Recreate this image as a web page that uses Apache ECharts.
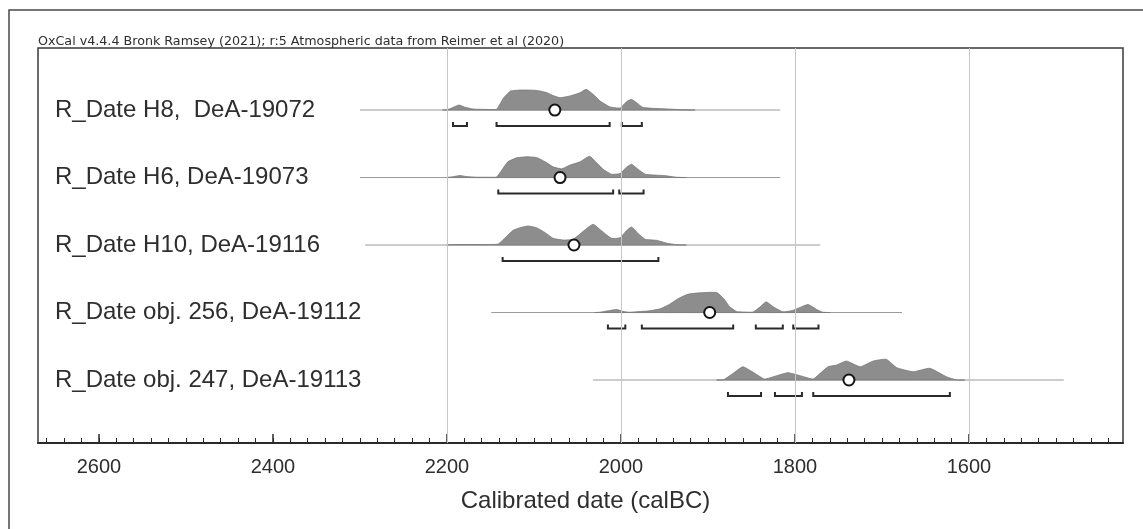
<!DOCTYPE html>
<html>
<head>
<meta charset="utf-8">
<script src="https://cdn.jsdelivr.net/npm/echarts@6/dist/echarts.min.js"></script>
<style>
html,body{margin:0;padding:0;background:#fff;}
#chart{width:1143px;height:529px;}
</style>
</head>
<body>
<div id="chart"></div>
<script>
// ---------- DATA ----------
const titleText = 'OxCal v4.4.4 Bronk Ramsey (2021); r:5 Atmospheric data from Reimer et al (2020)';
const axisTitle = 'Calibrated date (calBC)';
const rowLabels = [
  'R_Date H8,  DeA-19072',
  'R_Date H6, DeA-19073',
  'R_Date H10, DeA-19116',
  'R_Date obj. 256, DeA-19112',
  'R_Date obj. 247, DeA-19113'
];
const rowLevels = [4, 3, 2, 1, 0];
const majorTicks = [1600, 1800, 2000, 2200, 2400, 2600];
const gridYears = [1600, 1800, 2000, 2200];
const minorTicks = [];
for (let y = 1440; y <= 2660; y += 20) minorTicks.push(y);

// [calBC year, relative probability]
const densH8 = [[2205,0],[2199,0.5],[2192,3],[2186,5],[2180,3],[2170,1],[2155,0.6],[2143,0.8],[2139,6],[2135,12],[2131,15.7],[2127,19],[2115,20],[2100,19.8],[2093,19],[2085,17.3],[2078,14.5],[2070,12.3],[2059,14],[2047,17.3],[2040,20.7],[2032,15.7],[2024,9],[2013,3.3],[2001,2],[1994,8],[1988,10.7],[1982,7.3],[1975,2.7],[1965,1.8],[1952,1.3],[1929,0.3],[1915,0]];
const densH6 = [[2200,0],[2192,1],[2185,2],[2178,1],[2165,0.3],[2150,0.3],[2143,0.5],[2137,7.3],[2130,15.7],[2120,19.7],[2108,20.7],[2097,20],[2087,15.7],[2078,10.7],[2068,8.7],[2059,12.3],[2047,15.7],[2036,21.3],[2028,14.7],[2020,8],[2011,3.3],[2001,4],[1994,10],[1988,13.3],[1980,8],[1972,3.3],[1962,2.5],[1951,2],[1936,0.3],[1925,0]];
const densH10 = [[2200,0],[2190,0.5],[2160,0.5],[2145,0.6],[2141,1],[2133,7.3],[2124,14.7],[2116,17.3],[2107,19],[2097,17.3],[2087,12.3],[2078,6.7],[2066,5],[2055,5.7],[2043,14],[2032,20.7],[2022,14],[2011,6.7],[2001,7.3],[1994,14],[1988,18],[1980,11.3],[1972,5.7],[1959,4.7],[1948,2],[1936,0.3],[1925,0]];
const densO256 = [[2030,0],[2024,0.3],[2013,2],[2005,3],[1997,1],[1990,0.3],[1978,1],[1967,1.7],[1955,3.7],[1944,8.3],[1934,14],[1923,18.3],[1909,19.7],[1890,20],[1882,14],[1875,5.7],[1867,1],[1855,0.4],[1848,0.5],[1840,5.7],[1833,10.7],[1825,5.7],[1814,0.7],[1802,2.3],[1785,8],[1775,3],[1768,0.3],[1760,0]];
const densO247 = [[1890,0],[1882,0.3],[1871,6.7],[1860,13.3],[1848,7.7],[1835,1],[1821,4.3],[1808,7.3],[1794,4.3],[1779,1],[1771,6.7],[1762,13.3],[1752,15],[1741,19],[1725,13.3],[1710,19],[1695,20.7],[1683,12.3],[1664,8.3],[1645,11.7],[1626,3.3],[1614,0],[1605,0]];
const densities = [densH8, densH6, densH10, densO256, densO247];

// extent of the calculated range (thin baseline)
const spans = [[2300,1817],[2300,1817],[2294,1771],[2149,1677],[2032,1491]];
// 95.4% ranges (brackets)
const ranges95 = [
  [[2193,2177],[2143,2013],[1999,1976]],
  [[2141,2009],[2002,1974]],
  [[2136,1957]],
  [[2015,1995],[1976,1871],[1845,1814],[1802,1773]],
  [[1877,1839],[1823,1792],[1779,1622]]
];
const medians = [2076, 2070, 2054, 1898, 1738];

// ---------- CHART ----------
const chart = echarts.init(document.getElementById('chart'), null, {renderer: 'canvas'});
const FONT = '"Liberation Sans", Arial, sans-serif';
const TXT = '#2e2e2e';

function renderRow(params, api) {
  const i = params.dataIndex;
  const lvl = rowLevels[i];
  const children = [];
  const s0 = api.coord([spans[i][0], lvl]);
  const s1 = api.coord([spans[i][1], lvl]);
  children.push({type: 'line', shape: {x1: s0[0], y1: s0[1], x2: s1[0], y2: s1[1]},
    style: {stroke: '#9a9a9a', lineWidth: 1}, z2: 1});
  const pts = densities[i].map(function (p) {
    const c = api.coord([p[0], lvl]);
    return [c[0], c[1] - p[1]];
  });
  children.push({type: 'polygon', shape: {points: pts, smooth: 0.15},
    style: {fill: '#8d8d8d', stroke: '#7a7a7a', lineWidth: 0.8}, z2: 2});
  ranges95[i].forEach(function (r) {
    const a = api.coord([r[0], lvl]);
    const b = api.coord([r[1], lvl]);
    const yb = a[1] + 16;
    children.push({type: 'polyline', shape: {points: [[a[0], yb - 4], [a[0], yb], [b[0], yb], [b[0], yb - 4]]},
      style: {stroke: '#2a2a2a', lineWidth: 2, fill: null}, z2: 3});
  });
  return {type: 'group', children: children};
}

const option = {
  animation: false,
  backgroundColor: '#fff',
  title: {
    text: titleText, left: 38, top: 35, padding: 0,
    textStyle: {fontFamily: '"DejaVu Sans", sans-serif', fontSize: 12.7, fontWeight: 'normal', color: TXT}
  },
  graphic: [{
    type: 'rect', shape: {x: 9, y: 10, width: 1400, height: 800},
    style: {fill: null, stroke: '#4a4a4a', lineWidth: 1.5}, silent: true
  }],
  grid: {left: 38, right: 20, top: 48, bottom: 86, show: true, borderColor: '#3a3a3a', borderWidth: 1.5, backgroundColor: 'transparent'},
  xAxis: [{
    type: 'value', min: 1423, max: 2670, inverse: true, position: 'bottom',
    name: axisTitle, nameLocation: 'middle', nameGap: 46,
    nameTextStyle: {fontFamily: FONT, fontSize: 24, color: TXT, padding: [0, 0, 0, 10]},
    axisLine: {show: true, onZero: false, lineStyle: {color: '#2a2a2a', width: 2}},
    axisTick: {show: true, inside: true, length: 9, customValues: majorTicks, lineStyle: {color: '#2a2a2a', width: 1.5}},
    axisLabel: {show: true, margin: 14, customValues: majorTicks, fontFamily: FONT, fontSize: 20, color: TXT,
      formatter: function (v) { return String(v); }},
    splitLine: {show: false}
  }, {
    type: 'value', min: 1423, max: 2670, inverse: true, position: 'bottom',
    axisLine: {show: false, onZero: false},
    axisTick: {show: true, inside: true, length: 5, customValues: minorTicks, lineStyle: {color: '#2a2a2a', width: 1}},
    axisLabel: {show: false},
    splitLine: {show: false}
  }],
  yAxis: {
    type: 'value', min: -0.933, max: 4.919,
    axisLine: {show: false, onZero: false}, axisTick: {show: false}, splitLine: {show: false},
    axisLabel: {
      show: true, inside: true, margin: 17, customValues: rowLevels,
      fontFamily: FONT, fontSize: 24, color: TXT,
      formatter: function (v) {
        const idx = rowLevels.indexOf(Math.round(v * 1000) / 1000);
        return idx >= 0 ? rowLabels[idx] : '';
      }
    }
  },
  series: [{
    type: 'line', data: [], z: 1, silent: true, symbol: 'none',
    markLine: {
      silent: true, symbol: 'none', label: {show: false},
      lineStyle: {color: '#c6c6c6', width: 1, type: 'solid'},
      data: gridYears.map(function (y) { return {xAxis: y}; })
    }
  }, {
    type: 'custom', z: 2, silent: true,
    renderItem: renderRow,
    data: medians.map(function (m, i) { return [m, rowLevels[i]]; })
  }, {
    type: 'scatter', z: 5, silent: true,
    symbol: 'circle', symbolSize: 11,
    itemStyle: {color: '#ffffff', borderColor: '#151515', borderWidth: 2, opacity: 1},
    data: medians.map(function (m, i) { return [m, rowLevels[i]]; })
  }]
};
chart.setOption(option);
</script>
</body>
</html>
